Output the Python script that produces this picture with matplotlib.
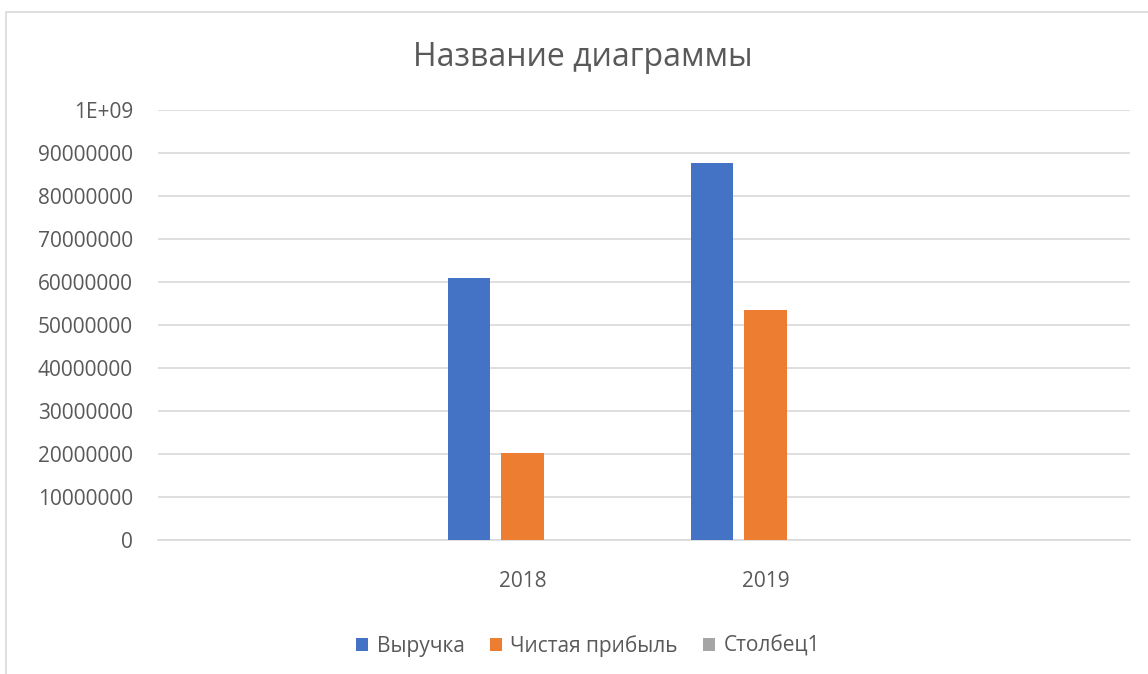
import numpy as np
import matplotlib
matplotlib.use('Agg')
import matplotlib.pyplot as plt
from matplotlib.patches import Rectangle

# data
categories = ['', '2018', '2019', '']
revenue = [np.nan, 60900000, 87700000, np.nan]
net_profit = [np.nan, 20200000, 53600000, np.nan]
column1 = [np.nan, np.nan, np.nan, np.nan]
series_names = ['Выручка', 'Чистая прибыль', 'Столбец1']
y_ticks = [0, 10000000, 20000000, 30000000, 40000000, 50000000,
           60000000, 70000000, 80000000, 90000000, 100000000]
y_labels = ['0', '10000000', '20000000', '30000000', '40000000', '50000000',
            '60000000', '70000000', '80000000', '90000000', '1E+09']

colors = ['#4472c4', '#ed7d31', '#a5a5a5']
text_color = '#595959'
grid_color = '#d9d9d9'

plt.rcParams['font.family'] = ['Open Sans', 'DejaVu Sans']

W, H = 1148, 674
fig = plt.figure(figsize=(W / 100, H / 100), dpi=100)
fig.patch.set_facecolor('white')

# chart area border (cropped on right / bottom)
fig.add_artist(Rectangle((6 / W, -0.1), 1.2, (H - 12) / H + 0.1,
                         transform=fig.transFigure, fill=False,
                         edgecolor=grid_color, linewidth=1.2))

ax = fig.add_axes([158 / W, (H - 540) / H, 972 / W, 430 / H])
x = np.arange(len(categories))
width = 0.173
step = 0.22
for i, (vals, name) in enumerate(zip([revenue, net_profit, column1], series_names)):
    ax.bar(x + (i - 1) * step, vals, width, color=colors[i], label=name, zorder=3)

ax.set_xlim(-0.5, len(categories) - 0.5)
ax.set_ylim(0, 100000000)
ax.set_yticks(y_ticks)
ax.set_yticklabels(y_labels)
ax.set_xticks(x)
ax.set_xticklabels(categories)
ax.tick_params(axis='y', length=0, pad=18, labelsize=15, labelcolor=text_color)
ax.tick_params(axis='x', length=0, pad=22, labelsize=15, labelcolor=text_color)
ax.grid(axis='y', color=grid_color, linewidth=1.2, zorder=0)
for s in ['top', 'right', 'left']:
    ax.spines[s].set_visible(False)
ax.spines['bottom'].set_color(grid_color)
ax.spines['bottom'].set_linewidth(1.2)

fig.text(583 / W, 1 - 58 / H, 'Название диаграммы', ha='center', va='center',
         fontsize=23, color=text_color)

handles, labels = ax.get_legend_handles_labels()
fig.legend(handles, labels, loc='center', bbox_to_anchor=(588 / W, 1 - 646 / H),
           ncol=3, frameon=False, fontsize=15, labelcolor=text_color,
           handlelength=0.6, handleheight=0.6, handletextpad=0.4, columnspacing=1.2)

fig.savefig('out.png', dpi=100)
